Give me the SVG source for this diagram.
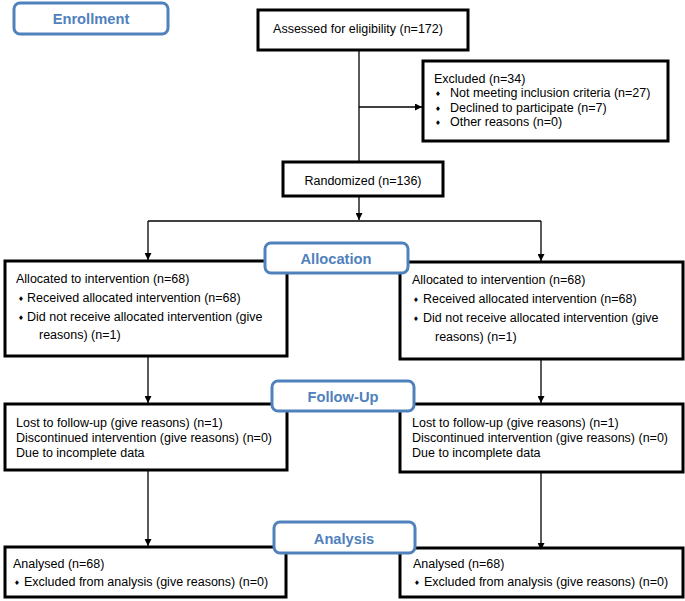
<svg xmlns="http://www.w3.org/2000/svg" width="685" height="601" viewBox="0 0 685 601">
<style>
.box{fill:#fff;stroke:#000;stroke-width:3}
.lab{fill:#fff;stroke:#4f81bd;stroke-width:3}
.lt{font-family:"Liberation Sans",Arial,sans-serif;font-weight:bold;font-size:14.7px;fill:#4f81bd;text-anchor:middle}
.t{font-family:"Liberation Sans",Arial,sans-serif;font-size:12.5px;fill:#000}
.c{text-anchor:middle}
.b{font-family:"DejaVu Sans",sans-serif;font-size:6.5px;fill:#000}
.ln{fill:none;stroke:#000;stroke-width:1.3}
</style>
<defs>
<marker id="ah" viewBox="0 0 10 10" refX="10" refY="5" markerWidth="7" markerHeight="7" markerUnits="userSpaceOnUse" orient="auto">
<path d="M0,0 L10,5 L0,10 z" fill="#000"/>
</marker>
</defs>
<g id="connectors">
<path class="ln" d="M359,50 V162"/>
<path class="ln" d="M359,107 H422" marker-end="url(#ah)"/>
<path class="ln" d="M359,196 V220" marker-end="url(#ah)"/>
<path class="ln" d="M148,221 H541"/>
<path class="ln" d="M148,221 V260" marker-end="url(#ah)"/>
<path class="ln" d="M541,221 V261" marker-end="url(#ah)"/>
<path class="ln" d="M148,356 V403" marker-end="url(#ah)"/>
<path class="ln" d="M541,359 V403" marker-end="url(#ah)"/>
<path class="ln" d="M148,470 V546" marker-end="url(#ah)"/>
<path class="ln" d="M541,472 V550" marker-end="url(#ah)"/>
</g>
<g id="enrollment">
<rect class="lab" x="14" y="3" width="154" height="31" rx="6"/>
<text class="lt" x="91" y="24">Enrollment</text>
</g>
<g id="assessed">
<rect class="box" x="258" y="10" width="210" height="40"/>
<text class="t c" x="358" y="33">Assessed for eligibility (n=172)</text>
</g>
<g id="excluded">
<rect class="box" x="423" y="61" width="245" height="80"/>
<text class="t" x="434" y="83">Excluded (n=34)</text>
<text class="b" x="435" y="96">♦</text><text class="t" x="450" y="97">Not meeting inclusion criteria (n=27)</text>
<text class="b" x="435" y="111">♦</text><text class="t" x="450" y="112">Declined to participate (n=7)</text>
<text class="b" x="435" y="125">♦</text><text class="t" x="450" y="126">Other reasons (n=0)</text>
</g>
<g id="randomized">
<rect class="box" x="283" y="162" width="160" height="34"/>
<text class="t c" x="363" y="185">Randomized (n=136)</text>
</g>
<g id="alloc-left">
<rect class="box" x="5" y="261" width="282" height="95"/>
<text class="t" x="16" y="283">Allocated to intervention (n=68)</text>
<text class="b" x="18" y="301">♦</text><text class="t" x="27" y="302">Received allocated intervention (n=68)</text>
<text class="b" x="18" y="320">♦</text><text class="t" x="27" y="321">Did not receive allocated intervention (give</text>
<text class="t" x="39" y="339">reasons) (n=1)</text>
</g>
<g id="alloc-right">
<rect class="box" x="400" y="262" width="283" height="97"/>
<text class="t" x="412" y="284">Allocated to intervention (n=68)</text>
<text class="b" x="413" y="302">♦</text><text class="t" x="423" y="303">Received allocated intervention (n=68)</text>
<text class="b" x="413" y="321">♦</text><text class="t" x="423" y="322">Did not receive allocated intervention (give</text>
<text class="t" x="435" y="341">reasons) (n=1)</text>
</g>
<g id="allocation">
<rect class="lab" x="265" y="243" width="143" height="30" rx="6"/>
<text class="lt" x="336" y="264">Allocation</text>
</g>
<g id="follow-left">
<rect class="box" x="5" y="404" width="282" height="66"/>
<text class="t" x="16" y="427">Lost to follow-up (give reasons) (n=1)</text>
<text class="t" x="16" y="442">Discontinued intervention (give reasons) (n=0)</text>
<text class="t" x="16" y="457">Due to incomplete data</text>
</g>
<g id="follow-right">
<rect class="box" x="400" y="404" width="283" height="68"/>
<text class="t" x="412" y="427">Lost to follow-up (give reasons) (n=1)</text>
<text class="t" x="412" y="442">Discontinued intervention (give reasons) (n=0)</text>
<text class="t" x="412" y="457">Due to incomplete data</text>
</g>
<g id="followup">
<rect class="lab" x="272" y="381" width="142" height="30" rx="6"/>
<text class="lt" x="343" y="402">Follow-Up</text>
</g>
<g id="analysis-left">
<rect class="box" x="5" y="547" width="281" height="50"/>
<text class="t" x="13" y="568">Analysed (n=68)</text>
<text class="b" x="14" y="585">♦</text><text class="t" x="24" y="586">Excluded from analysis (give reasons) (n=0)</text>
</g>
<g id="analysis-right">
<rect class="box" x="400" y="548" width="283" height="49"/>
<text class="t" x="413" y="568">Analysed (n=68)</text>
<text class="b" x="414" y="585">♦</text><text class="t" x="424" y="586">Excluded from analysis (give reasons) (n=0)</text>
</g>
<g id="analysis">
<rect class="lab" x="274" y="522" width="141" height="31" rx="6"/>
<text class="lt" x="344" y="544">Analysis</text>
</g>
</svg>
